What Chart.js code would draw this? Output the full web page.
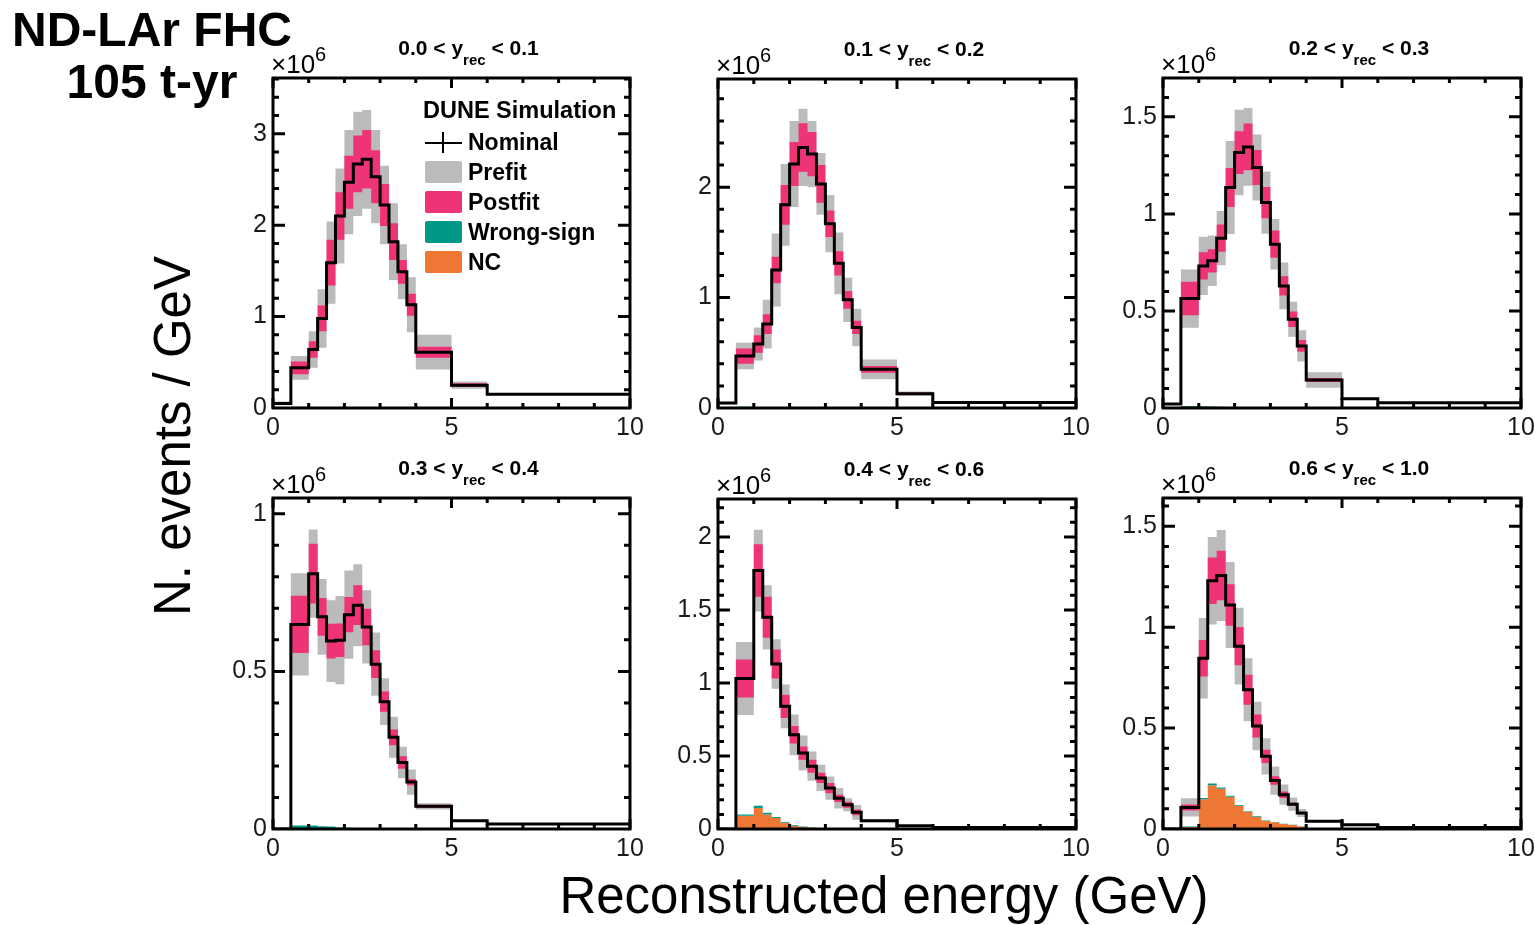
<!DOCTYPE html>
<html>
<head>
<meta charset="utf-8">
<script src="https://cdn.jsdelivr.net/npm/chart.js@4.4.0/dist/chart.umd.min.js"></script>
<style>
  body { margin: 0; background: #fff; }
  #page { position: relative; width: 1535px; height: 925px; overflow: hidden; background: #fff; font-family: "Liberation Sans", Arial, sans-serif; color: #000; }
  #page canvas { position: absolute; }
  .txt { position: absolute; line-height: 0; white-space: nowrap; }
  .sw { position: absolute; width: 37px; height: 22px; border-radius: 2px; }
</style>
</head>
<body>
<div id="page"></div>
<script>
// bin edges (GeV), shared by all six panels
const edges = [0, 0.5, 1, 1.25, 1.5, 1.75, 2, 2.25, 2.5, 2.75, 3, 3.25, 3.5, 3.75, 4, 5, 6, 10];

// values in units of 10^6 events / GeV, one entry per bin
// 0.0 < y < 0.1
const nom1  = [0.05, 0.44, 0.64, 0.98, 1.59, 2.10, 2.47, 2.67, 2.72, 2.53, 2.22, 1.82, 1.49, 1.13, 0.61, 0.25, 0.15];
const pre1  = [0.02, 0.13, 0.20, 0.32, 0.45, 0.52, 0.57, 0.57, 0.54, 0.51, 0.43, 0.42, 0.30, 0.30, 0.19, 0.04, 0.01];
const post1 = [0.01, 0.07, 0.09, 0.14, 0.25, 0.26, 0.29, 0.31, 0.32, 0.29, 0.23, 0.20, 0.13, 0.12, 0.06, 0.02, 0.005];
const ws1   = [0, 0.012, 0.008, 0.006, 0.005, 0.004, 0.003, 0.003, 0.002, 0.002, 0.002, 0.001, 0.001, 0.001, 0.001, 0, 0];
const nc1   = [0, 0.002, 0.002, 0.001, 0.001, 0.001, 0.001, 0, 0, 0, 0, 0, 0, 0, 0, 0, 0];
// 0.1 < y < 0.2
const nom2  = [0.045, 0.47, 0.58, 0.76, 1.25, 1.84, 2.21, 2.36, 2.30, 2.03, 1.67, 1.31, 0.98, 0.73, 0.35, 0.13, 0.05];
const pre2  = [0.01, 0.12, 0.15, 0.22, 0.33, 0.37, 0.39, 0.35, 0.30, 0.28, 0.26, 0.28, 0.20, 0.17, 0.09, 0.02, 0.005];
const post2 = [0.005, 0.07, 0.08, 0.09, 0.12, 0.18, 0.20, 0.22, 0.20, 0.17, 0.12, 0.11, 0.08, 0.06, 0.03, 0.01, 0];
const ws2   = [0, 0.01, 0.008, 0.006, 0.005, 0.004, 0.003, 0.003, 0.002, 0.002, 0.002, 0.001, 0.001, 0.001, 0, 0, 0];
const nc2   = [0, 0.002, 0.002, 0.002, 0.001, 0.001, 0.001, 0, 0, 0, 0, 0, 0, 0, 0, 0, 0];
// 0.2 < y < 0.3
const nom3  = [0.02, 0.564, 0.732, 0.758, 0.875, 1.136, 1.316, 1.345, 1.239, 1.058, 0.844, 0.629, 0.457, 0.32, 0.144, 0.048, 0.027];
const pre3  = [0.005, 0.15, 0.15, 0.13, 0.14, 0.24, 0.22, 0.20, 0.17, 0.16, 0.13, 0.12, 0.09, 0.08, 0.04, 0.005, 0];
const post3 = [0.003, 0.086, 0.07, 0.06, 0.07, 0.10, 0.11, 0.12, 0.09, 0.08, 0.07, 0.05, 0.04, 0.03, 0.01, 0, 0];
const ws3   = [0, 0.008, 0.007, 0.006, 0.005, 0.004, 0.003, 0.002, 0.002, 0.001, 0.001, 0.001, 0, 0, 0, 0, 0];
const nc3   = [0, 0.002, 0.002, 0.002, 0.001, 0.001, 0.001, 0.001, 0, 0, 0, 0, 0, 0, 0, 0, 0];
// 0.3 < y < 0.4
const nom4  = [0, 0.649, 0.81, 0.673, 0.596, 0.599, 0.68, 0.71, 0.641, 0.523, 0.404, 0.291, 0.211, 0.149, 0.072, 0.026, 0.016];
const pre4  = [0, 0.162, 0.14, 0.12, 0.13, 0.14, 0.14, 0.13, 0.116, 0.10, 0.074, 0.065, 0.05, 0.04, 0.01, 0.003, 0];
const post4 = [0, 0.091, 0.095, 0.06, 0.055, 0.053, 0.056, 0.063, 0.058, 0.044, 0.032, 0.025, 0.02, 0.01, 0.005, 0, 0];
const ws4   = [0, 0.008, 0.008, 0.007, 0.006, 0.004, 0.003, 0.002, 0.002, 0.001, 0.001, 0.001, 0, 0, 0, 0, 0];
const nc4   = [0, 0.003, 0.003, 0.002, 0.002, 0.001, 0.001, 0.001, 0, 0, 0, 0, 0, 0, 0, 0, 0];
// 0.4 < y < 0.6
const nom5  = [0, 1.03, 1.77, 1.45, 1.13, 0.84, 0.645, 0.52, 0.43, 0.35, 0.28, 0.21, 0.166, 0.114, 0.057, 0.023, 0.011];
const pre5  = [0, 0.25, 0.28, 0.22, 0.17, 0.15, 0.14, 0.12, 0.10, 0.09, 0.08, 0.07, 0.045, 0.05, 0.01, 0, 0];
const post5 = [0, 0.13, 0.18, 0.14, 0.10, 0.08, 0.06, 0.045, 0.045, 0.035, 0.035, 0.025, 0.02, 0.02, 0.005, 0, 0];
const ws5   = [0, 0.01, 0.017, 0.012, 0.008, 0.005, 0.004, 0.003, 0.002, 0.001, 0.001, 0.001, 0, 0, 0, 0, 0];
const nc5   = [0, 0.09, 0.143, 0.10, 0.075, 0.041, 0.023, 0.014, 0.008, 0.004, 0.003, 0.002, 0.001, 0.001, 0, 0, 0];
// 0.6 < y < 1.0
const nom6  = [0, 0.107, 0.846, 1.23, 1.256, 1.11, 0.906, 0.69, 0.51, 0.36, 0.24, 0.17, 0.123, 0.079, 0.038, 0.021, 0.008];
const pre6  = [0, 0.045, 0.20, 0.217, 0.225, 0.213, 0.19, 0.156, 0.12, 0.09, 0.07, 0.05, 0.033, 0.02, 0.005, 0, 0];
const post6 = [0, 0.015, 0.09, 0.115, 0.123, 0.103, 0.095, 0.074, 0.057, 0.033, 0.021, 0.016, 0.008, 0.005, 0, 0, 0];
const ws6   = [0, 0.002, 0.005, 0.008, 0.006, 0.005, 0.004, 0.003, 0.003, 0.002, 0.002, 0.001, 0.001, 0.001, 0, 0, 0];
const nc6   = [0.004, 0.01, 0.148, 0.217, 0.20, 0.16, 0.115, 0.085, 0.06, 0.04, 0.033, 0.025, 0.02, 0.013, 0.005, 0.002, 0];

// panel ranges and tick labels
const yRecLow  = ['0.0', '0.1', '0.2', '0.3', '0.4', '0.6'];
const yRecHigh = ['0.1', '0.2', '0.3', '0.4', '0.6', '1.0'];
const yMax     = [3.61, 2.98, 1.70, 1.05, 2.26, 1.64];
const yMajor   = [[0, 1, 2, 3], [0, 1, 2], [0, 0.5, 1, 1.5], [0, 0.5, 1], [0, 0.5, 1, 1.5, 2], [0, 0.5, 1, 1.5]];
const yMinor   = [0.2, 0.2, 0.1, 0.1, 0.1, 0.1];
const xMajor   = [0, 5, 10];

const panels = [
  [nom1, pre1, post1, ws1, nc1],
  [nom2, pre2, post2, ws2, nc2],
  [nom3, pre3, post3, ws3, nc3],
  [nom4, pre4, post4, ws4, nc4],
  [nom5, pre5, post5, ws5, nc5],
  [nom6, pre6, post6, ws6, nc6]
];

// plot area boxes on the page: left, top, width, height
const boxes = [[273, 77, 357, 331], [718, 78, 358, 330], [1163, 77, 358, 331],
               [273, 497, 357, 332], [718, 498, 358, 331], [1163, 497, 358, 332]];

const GREY = '#BBBBBB', PINK = '#EE3377', TEAL = '#009988', ORANGE = '#EE7733';
const FONT = '"Liberation Sans", Arial, sans-serif';
const page = document.getElementById('page');

function steps(vals) {
  return edges.map((e, i) => ({ x: e, y: vals[Math.min(i, vals.length - 1)] }));
}

// ROOT-like frame with inward ticks on all four sides
const frameTicks = {
  id: 'frameTicks',
  afterDatasetsDraw(chart, args, opts) {
    const { ctx, chartArea: a, scales: { x, y } } = chart;
    ctx.save();
    ctx.strokeStyle = '#000';
    ctx.lineWidth = 3;
    ctx.beginPath();
    for (let v = 0; v <= 10; v++) {
      const px = x.getPixelForValue(v);
      const len = v % 5 === 0 ? 10 : 5;
      ctx.moveTo(px, a.bottom); ctx.lineTo(px, a.bottom - len);
      ctx.moveTo(px, a.top); ctx.lineTo(px, a.top + len);
    }
    for (let k = 1; k * opts.minor < y.max; k++) {
      const v = k * opts.minor;
      const py = y.getPixelForValue(v);
      const len = opts.majors.some(m => Math.abs(m - v) < 1e-6) ? 12 : 6;
      ctx.moveTo(a.left, py); ctx.lineTo(a.left + len, py);
      ctx.moveTo(a.right, py); ctx.lineTo(a.right - len, py);
    }
    ctx.stroke();
    ctx.strokeRect(a.left, a.top, a.right - a.left, a.bottom - a.top);
    ctx.restore();
  }
};

function addText(html, x, baseline, size, opts = {}) {
  const d = document.createElement('div');
  d.className = 'txt';
  d.innerHTML = html;
  d.style.fontSize = size + 'px';
  d.style.fontWeight = opts.bold ? 'bold' : 'normal';
  d.style.top = (baseline - 0.3465 * size) + 'px';
  if (opts.align === 'center') {
    d.style.left = (x - 600) + 'px'; d.style.width = '1200px'; d.style.textAlign = 'center';
  } else {
    d.style.left = x + 'px';
  }
  page.appendChild(d);
  return d;
}

const ML = 70, MT = 20, MR = 20, MB = 45;

panels.forEach((p, i) => {
  const [nom, pre, post, ws, nc] = p;
  const [bl, bt, bw, bh] = boxes[i];
  const cv = document.createElement('canvas');
  cv.width = bw + ML + MR; cv.height = bh + MT + MB;
  cv.style.left = (bl - ML) + 'px'; cv.style.top = (bt - MT) + 'px';
  page.appendChild(cv);

  const band = (sign, err) => steps(nom.map((v, k) => Math.max(0, v + sign * err[k])));
  const common = { stepped: true, pointRadius: 0, borderWidth: 0, borderColor: 'transparent', fill: false };

  new Chart(cv.getContext('2d'), {
    type: 'line',
    data: {
      datasets: [
        { ...common, label: 'Nominal', data: steps(nom), borderColor: '#000', borderWidth: 3, order: 0 },
        { ...common, label: 'Wrong-sign', data: steps(nc.map((v, k) => v + ws[k])), fill: 2, backgroundColor: TEAL, order: 1 },
        { ...common, label: 'NC', data: steps(nc), fill: 'origin', backgroundColor: ORANGE, order: 2 },
        { ...common, label: 'Postfit', data: band(1, post), fill: 4, backgroundColor: PINK, order: 3 },
        { ...common, label: 'postLo', data: band(-1, post), order: 4 },
        { ...common, label: 'Prefit', data: band(1, pre), fill: 6, backgroundColor: GREY, order: 5 },
        { ...common, label: 'preLo', data: band(-1, pre), order: 6 }
      ]
    },
    options: {
      responsive: false,
      animation: false,
      events: [],
      layout: { padding: { left: 0, top: MT, right: MR, bottom: 0 } },
      plugins: {
        legend: { display: false },
        tooltip: { enabled: false },
        frameTicks: { majors: yMajor[i], minor: yMinor[i] }
      },
      scales: {
        x: {
          type: 'linear', min: 0, max: 10,
          grid: { display: false, drawTicks: false }, border: { display: false },
          afterBuildTicks: s => { s.ticks = xMajor.map(v => ({ value: v })); },
          afterFit: s => { s.height = MB; },
          ticks: { color: '#1a1a1a', font: { family: FONT, size: 25 }, padding: 5, maxRotation: 0, callback: v => String(v) }
        },
        y: {
          type: 'linear', min: 0, max: yMax[i],
          grid: { display: false, drawTicks: false }, border: { display: false },
          afterBuildTicks: s => { s.ticks = yMajor[i].map(v => ({ value: v })); },
          afterFit: s => { s.width = ML; },
          ticks: { color: '#1a1a1a', font: { family: FONT, size: 25 }, padding: 6, callback: v => String(v) }
        }
      }
    },
    plugins: [frameTicks]
  });

  // panel title and the x10^6 multiplier
  addText(yRecLow[i] + ' &lt; y<span style="font-size:15px;position:relative;top:10px">rec</span> &lt; ' + yRecHigh[i],
          bl + bw / 2 + 17, bt - 22, 21, { bold: true, align: 'center' });
  addText('&times;10<span style="font-size:20px;position:relative;top:-12px">6</span>', bl - 2, bt - 4, 26);
});

// global labels
addText('ND-LAr FHC', 152, 47, 48, { bold: true, align: 'center' });
addText('105 t-yr', 152, 99, 48, { bold: true, align: 'center' });
addText('Reconstructed energy (GeV)', 884, 914, 51, { align: 'center' });
const yl = addText('N. events / GeV', 173, 436, 51, { align: 'center' });
yl.style.top = '436px';
yl.style.transformOrigin = '600px 0';
yl.style.transform = 'rotate(-90deg)';

// legend in the first panel
addText('DUNE Simulation', 423, 118, 23.5, { bold: true });
const legendRows = [['Nominal', null], ['Prefit', GREY], ['Postfit', PINK], ['Wrong-sign', TEAL], ['NC', ORANGE]];
legendRows.forEach(([name, col], k) => {
  const base = 150 + 30 * k;
  addText(name, 468, base, 23, { bold: true });
  if (col) {
    const s = document.createElement('div');
    s.className = 'sw';
    s.style.left = '425px'; s.style.top = (base - 19) + 'px'; s.style.background = col;
    page.appendChild(s);
  } else {
    const h = document.createElement('div');
    h.style.cssText = 'position:absolute;left:425px;top:' + (base - 8) + 'px;width:37px;height:2px;background:#000';
    const v = document.createElement('div');
    v.style.cssText = 'position:absolute;left:442px;top:' + (base - 18) + 'px;width:2px;height:21px;background:#000';
    page.appendChild(h); page.appendChild(v);
  }
});
</script>
</body>
</html>
